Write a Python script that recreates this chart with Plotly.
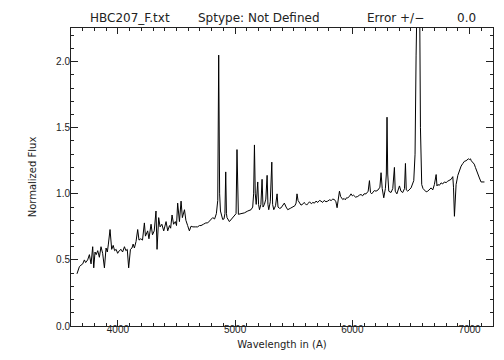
import plotly.graph_objects as go

# Wavelength (Angstrom) and normalized flux
wavelength = [
    3651, 3665, 3672, 3685, 3700, 3714, 3725, 3742, 3757, 3771, 3785, 3794, 3805, 3815, 3828,
    3842, 3856, 3870, 3885, 3899, 3910, 3919, 3933, 3947, 3960, 3972, 3985, 3998, 4012, 4027,
    4040, 4056, 4068, 4080, 4092, 4107, 4120, 4130, 4141, 4155, 4169, 4180, 4195, 4210, 4226,
    4235, 4245, 4254, 4265, 4283, 4295, 4310, 4325, 4334, 4348, 4360, 4375, 4391, 4411, 4425,
    4440, 4450, 4462, 4475, 4490, 4500, 4510, 4525, 4539, 4550, 4568, 4580, 4595, 4610, 4624,
    4640, 4660, 4680, 4695, 4709, 4730, 4750, 4766, 4785, 4809, 4825, 4840, 4852, 4860, 4868,
    4875, 4894, 4905, 4913, 4920, 4926, 4931, 4951, 4970, 4994, 5008, 5016, 5022, 5028, 5050,
    5079, 5108, 5136, 5150, 5158, 5165, 5172, 5180, 5193, 5200, 5208, 5220, 5230, 5238, 5250,
    5262, 5273, 5280, 5287, 5300, 5313, 5320, 5330, 5345, 5358, 5366, 5380, 5392, 5405, 5420,
    5435, 5449, 5470, 5490, 5510, 5520, 5528, 5537, 5550, 5562, 5575, 5588, 5600, 5610, 5620,
    5635, 5650, 5663, 5677, 5690, 5705, 5720, 5733, 5746, 5760, 5775, 5790, 5805, 5820, 5833,
    5847, 5860, 5870, 5880, 5890, 5900, 5918, 5930, 5940, 5950, 5961, 5975, 5989, 6000, 6010,
    6028, 6046, 6060, 6074, 6088, 6100, 6117, 6135, 6146, 6155, 6165, 6175, 6188, 6202, 6220,
    6235, 6245, 6255, 6268, 6282, 6290, 6296, 6302, 6311, 6330, 6345, 6359, 6366, 6380, 6402,
    6415, 6430, 6445, 6453, 6460, 6473, 6501, 6524, 6535, 6544, 6552, 6558, 6566, 6572, 6581,
    6592, 6603, 6615, 6630, 6643, 6658, 6672, 6686, 6700, 6715, 6722, 6729, 6743, 6757, 6771,
    6785, 6800, 6814, 6828, 6843, 6857, 6863, 6871, 6878, 6885, 6900, 6914, 6928, 6943, 6957,
    6970, 6980, 6990, 6999, 7008, 7015, 7027, 7040, 7050, 7060, 7070, 7084, 7098, 7127,
]
flux = [
    0.395, 0.43, 0.45, 0.46, 0.47, 0.50, 0.48, 0.50, 0.54, 0.47, 0.60, 0.44, 0.56, 0.54, 0.57,
    0.52, 0.60, 0.55, 0.44, 0.59, 0.56, 0.62, 0.73, 0.58, 0.61, 0.57, 0.58, 0.55, 0.57, 0.58,
    0.56, 0.60, 0.57, 0.58, 0.44, 0.58, 0.59, 0.62, 0.59, 0.64, 0.73, 0.65, 0.66, 0.65, 0.78,
    0.68, 0.70, 0.72, 0.66, 0.77, 0.69, 0.72, 0.87, 0.58, 0.82, 0.75, 0.77, 0.72, 0.79, 0.72,
    0.76, 0.74, 0.84, 0.77, 0.79, 0.76, 0.93, 0.79, 0.945, 0.82, 0.88, 0.80, 0.76, 0.72, 0.755,
    0.75, 0.75, 0.75, 0.76, 0.76, 0.77, 0.78, 0.78, 0.80, 0.82, 0.81, 0.85, 0.95, 2.05, 1.00,
    0.87, 0.806, 0.81, 0.85, 1.166, 0.85, 0.82, 0.79, 0.81, 0.83, 0.85, 1.335, 0.86, 0.845, 0.85,
    0.856, 0.87, 0.88, 0.90, 1.00, 1.37, 1.00, 0.92, 1.09, 0.92, 0.88, 0.92, 1.11, 0.90, 0.92,
    0.96, 1.14, 0.92, 0.88, 0.94, 1.24, 0.92, 0.88, 0.91, 1.00, 0.90, 0.89, 0.894, 0.91, 0.93,
    0.90, 0.88, 0.89, 0.90, 0.91, 0.93, 1.00, 0.95, 0.93, 0.915, 0.92, 0.935, 0.925, 0.915, 0.925,
    0.94, 0.925, 0.935, 0.93, 0.945, 0.935, 0.95, 0.945, 0.935, 0.95, 0.94, 0.945, 0.955, 0.95, 0.96,
    0.957, 0.94, 0.895, 0.95, 1.02, 0.98, 0.957, 0.965, 0.955, 0.97, 0.97, 0.98, 1.00, 0.985, 0.99,
    0.975, 0.98, 0.99, 0.995, 0.985, 1.00, 1.00, 1.02, 1.10, 1.01, 1.00, 1.01, 1.025, 1.02, 1.03,
    1.05, 1.16, 1.04, 0.97, 1.04, 1.15, 1.58, 1.15, 1.02, 1.01, 1.04, 1.20, 1.02, 1.00, 1.06,
    1.02, 1.01, 1.04, 1.23, 1.03, 1.02, 1.045, 1.10, 1.30, 2.05, 2.90, 3.20, 3.20, 2.80, 1.50,
    1.07, 1.04, 1.03, 1.015, 1.02, 1.035, 1.045, 1.03, 1.07, 1.146, 1.06, 1.07, 1.065, 1.083, 1.075,
    1.09, 1.085, 1.096, 1.10, 1.11, 1.13, 1.05, 0.83, 0.98, 1.07, 1.14, 1.18, 1.21, 1.23, 1.247,
    1.25, 1.255, 1.265, 1.26, 1.265, 1.25, 1.235, 1.225, 1.20, 1.18, 1.16, 1.12, 1.09, 1.09,
]

x_tickvals = [4000, 5000, 6000, 7000]
y_tickvals = [0.0, 0.5, 1.0, 1.5, 2.0]

title_file = "HBC207_F.txt"
title_type = "Sptype: Not Defined"
title_err = "Error +/\u2212"
title_errval = "0.0"

FONT = "DejaVu Sans"
TICKFONT = "Liberation Sans"
AXCOL = "#222222"
TXTCOL = "#222222"

fig = go.Figure()
fig.add_trace(go.Scatter(
    x=wavelength, y=flux, mode="lines",
    line=dict(color="black", width=1),
    hoverinfo="skip", showlegend=False,
))

axis_common = dict(
    showgrid=False, zeroline=False, showline=True, linecolor=AXCOL, linewidth=1,
    mirror="allticks", ticks="inside", tickcolor=AXCOL, tickwidth=1,
    tickfont=dict(family=TICKFONT, size=10, color=TXTCOL),
)

fig.update_layout(
    width=504, height=360,
    margin=dict(l=63, r=19, t=20, b=42),
    paper_bgcolor="white", plot_bgcolor="white",
    xaxis=dict(
        range=[3600, 7200], tickvals=x_tickvals, ticklen=6, ticklabelstandoff=-6,
        minor=dict(dtick=100, tick0=3600, ticklen=3, ticks="inside", tickcolor=AXCOL, showgrid=False),
        title=dict(text="Wavelength in (A)", font=dict(family=FONT, size=10, color=TXTCOL), standoff=6),
        **axis_common,
    ),
    yaxis=dict(
        range=[0, 2.255], tickvals=y_tickvals, tickformat=".1f", ticklen=7, ticklabelstandoff=-2,
        minor=dict(dtick=0.1, tick0=0, ticklen=3, ticks="inside", tickcolor=AXCOL, showgrid=False),
        title=dict(text="Normalized Flux", font=dict(family=FONT, size=10, color=TXTCOL), standoff=17),
        **axis_common,
    ),
)

title_parts = [(title_file, 0.040), (title_type, 0.297), (title_err, 0.696), (title_errval, 0.909)]
for txt, xp in title_parts:
    fig.add_annotation(
        text=txt, x=xp, y=1.0335, xref="paper", yref="paper",
        xanchor="left", yanchor="middle", showarrow=False,
        font=dict(family=FONT, size=12, color=TXTCOL),
    )

fig.write_html("out.html")
